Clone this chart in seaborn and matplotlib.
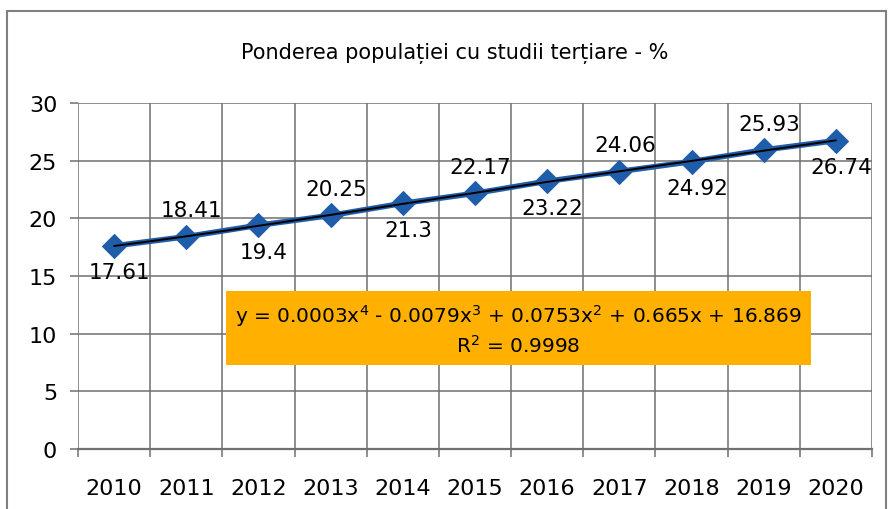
import numpy as np
import pandas as pd
import matplotlib
matplotlib.use("Agg")
import matplotlib.pyplot as plt
import seaborn as sns
from matplotlib.patches import Rectangle

# Data
years = ["2010", "2011", "2012", "2013", "2014", "2015",
         "2016", "2017", "2018", "2019", "2020"]
values = [17.61, 18.41, 19.4, 20.25, 21.3, 22.17, 23.22, 24.06, 24.92, 25.93, 26.74]
label_pos = ["below", "above", "below", "above", "below", "above",
             "below", "above", "below", "above", "below"]
equation = "y = 0.0003x$^4$ - 0.0079x$^3$ + 0.0753x$^2$ + 0.665x + 16.869\nR$^2$ = 0.9998"

sns.set_theme(style="white")
plt.rcParams['font.family'] = ['DejaVu Sans']
plt.rcParams['text.color'] = 'black'
plt.rcParams['xtick.labelcolor'] = 'black'
plt.rcParams['ytick.labelcolor'] = 'black'

df = pd.DataFrame({"pos": np.arange(len(years)), "value": values})

fig = plt.figure(figsize=(8.91, 5.10), dpi=100)
ax = fig.add_axes([78 / 891, 1 - 450 / 510, (872 - 78) / 891, (450 - 104) / 510])

# outer chart frame
fig.patches.append(Rectangle((7 / 891, -0.05), 879 / 891, 1.05 - 12 / 510,
                             transform=fig.transFigure, fill=False,
                             edgecolor="#808080", linewidth=1.5))

sns.lineplot(data=df, x="pos", y="value", ax=ax, color="#1f5ca9", linewidth=4,
             marker="D", markersize=12, markeredgecolor="#1f5ca9", zorder=3)

# polynomial trend line (order 4), fitted on x = 1..11 like Excel
xs = df["pos"].values + 1
coefs = np.polyfit(xs, df["value"].values, 4)
xx = np.linspace(xs.min(), xs.max(), 200)
ax.plot(xx - 1, np.polyval(coefs, xx), color="black", linewidth=1.4, zorder=4)

for i, (v, p) in enumerate(zip(values, label_pos)):
    dy = 19 if p == "above" else -19
    ax.annotate(f"{v:g}", (i, v), xytext=(4, dy), textcoords="offset points",
                ha="center", va="center", fontsize=15.5, color="black", zorder=5)

ax.text(5.6, 10.4, equation, ha="center", va="center", fontsize=14.5,
        linespacing=1.3, zorder=6,
        bbox=dict(boxstyle="square,pad=0.45", facecolor="#ffb000", edgecolor="none"))

ax.set_xlim(-0.5, len(years) - 0.5)
ax.set_ylim(0, 30)
ax.set_yticks(range(0, 31, 5))
ax.set_xticks(range(len(years)))
ax.set_xticklabels(years)
ax.set_xticks(np.arange(-0.5, len(years), 1), minor=True)
ax.grid(False)
ax.grid(True, which="minor", axis="x", color="#707070", linewidth=1.1)
ax.grid(True, which="major", axis="y", color="#707070", linewidth=1.1)
ax.tick_params(axis="x", which="major", length=0, pad=21, labelsize=16)
ax.tick_params(axis="x", which="minor", length=6, width=1.1, color="#707070", direction="out", bottom=True)
ax.tick_params(axis="y", length=6, width=1.1, color="#707070", direction="out", left=True, pad=9, labelsize=16)
ax.set_xlabel("")
ax.set_ylabel("")
for s in ["top", "right", "left"]:
    ax.spines[s].set_visible(False)
ax.spines["bottom"].set_color("#707070")
ax.spines["bottom"].set_linewidth(1.6)

fig.text(455 / 891, 1 - 53 / 510, "Ponderea populației cu studii terțiare - %",
         ha="center", va="center", fontsize=15)

fig.savefig("out.png", dpi=100)
